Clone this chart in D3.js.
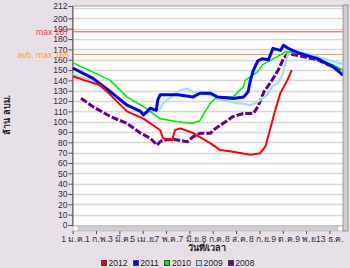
<!DOCTYPE html>
<html>
<head>
<meta charset="UTF-8">
<script src="https://cdn.jsdelivr.net/npm/d3@7/dist/d3.min.js"></script>
<style>
  body { margin: 0; background: #e8e0e8; }
  svg { display: block; }
  text { font-family: "Liberation Sans", Arial, sans-serif; }
</style>
</head>
<body>
<script>
// x = day index in the year (data points), y = million m3
var tickDays = [0, 31, 62, 93, 124, 155, 186, 217, 248, 279, 310, 341];
var tickLabels = ["1 ม.ค.", "1 ก.พ.", "3 มี.ค.", "5 เม.ย.", "7 พ.ค.", "7 มิ.ย.", "8 ก.ค.", "8 ส.ค.", "8 ก.ย.", "9 ต.ค.", "9 พ.ย.", "13 ธ.ค."];
var yTicks = [0,10,20,30,40,50,60,70,80,90,100,110,120,130,140,150,160,170,180,190,200,212];
var yGrid = [10,20,30,40,50,60,70,80,90,100,110,120,130,140,150,160,170,180,190,200,210];

var years = ["2012", "2011", "2010", "2009", "2008"];
var colors = ["#ff0000", "#0000ff", "#00ee00", "#9fe2ee", "#660099"];

var s2012 = [[0,144],[16,140],[36,135.5],[50,126],[72,110],[94,103],[116,92],[120,84],[132,82],[136,92],
  [143,93.5],[160,89],[183,79],[196,72.5],[213,71],[236,68],[249,69.5],[256,76],[262,92],[269,111],
  [276,128],[285,140],[291,150]];
var s2011 = [[0,152],[27,142],[50,129],[72,116],[90,110],[94,106.5],[99,110],[103,113],[111,111],[113,121],
  [116,126],[140,126],[160,124],[169,127.5],[183,127.5],[192,124],[213,122.5],[227,124],[233,129],[236,140],
  [240,150],[246,159],[252,161],[260,160],[266,171],[276,169],[280,174],[286,171],[302,166],[325,161],
  [346,153],[359,145]];
var s2010 = [[0,157],[27,148],[50,140],[72,124],[94,114.5],[116,103],[139,100],[160,98.4],[169,101],
  [176,110],[183,118],[192,124],[213,124],[227,134],[229,140],[245,148],[252,155],[272,163],[283,168],
  [302,166],[325,160],[346,155],[359,150]];
var s2009 = [[0,146],[27,139],[50,128],[72,117],[94,108],[116,112],[120,118],[134,126],[143,130.7],
  [152,132],[160,129],[183,126],[192,122],[219,118],[236,116],[245,119],[252,122.6],[258,126],[265,134],
  [272,137],[280,148],[283,158],[286,166],[293,169],[325,163],[346,158],[359,156]];
var s2008 = [[11,122.6],[27,114.5],[50,105],[72,98.4],[90,89],[103,84],[112,77.4],[116,80.6],[120,82.3],
  [134,83],[152,80.6],[160,85.5],[169,88.8],[183,88.8],[187,92],[200,98.4],[213,105],[227,108],[240,108],
  [246,114.5],[254,129],[262,137],[273,150],[280,161],[286,166],[325,160],[346,153],[358,148]];
var series = [s2012, s2011, s2010, s2009, s2008];

var maxVal = 187, avbMax = 165;

var W = 350, H = 268;
var x = d3.scaleLinear().domain([0, 359]).range([72.7, 343]);
var y = d3.scaleLinear().domain([0, 212]).range([225, 6]);

var svg = d3.select("body").append("svg").attr("width", W).attr("height", H);

// plot background
svg.append("rect").attr("x", 72.5).attr("y", 6).attr("width", 271).attr("height", 220)
  .attr("fill", "#fff").attr("stroke", "#a0a0a0");

// grid
svg.append("g").selectAll("line").data(yGrid)
  .enter().append("line")
  .attr("x1", 73).attr("x2", 343)
  .attr("y1", function (d) { return Math.round(y(d)) + 0.5; })
  .attr("y2", function (d) { return Math.round(y(d)) + 0.5; })
  .attr("stroke", "#d8d8d8").attr("stroke-width", 1.5);

// y axis
var yAxis = d3.axisLeft(y).tickValues(yTicks).tickSize(4).tickPadding(1);
var gy = svg.append("g").attr("transform", "translate(72.5,0)").call(yAxis);
gy.select(".domain").attr("stroke", "#555");
gy.selectAll("line").attr("stroke", "#555");
gy.selectAll("text").attr("font-size", 8.6).attr("fill", "#333");

// max lines
svg.append("line").attr("x1", 73).attr("x2", 343).attr("y1", y(maxVal)).attr("y2", y(maxVal))
  .attr("stroke", "#ff4040").attr("stroke-width", 1);
svg.append("line").attr("x1", 73).attr("x2", 343).attr("y1", y(avbMax)).attr("y2", y(avbMax))
  .attr("stroke", "#ff9a40").attr("stroke-width", 1);
svg.append("text").attr("x", 69).attr("y", y(maxVal) + 3).attr("text-anchor", "end")
  .attr("font-size", 8.6).attr("fill", "#ff3b3b").text("max " + maxVal);
svg.append("text").attr("x", 69).attr("y", y(avbMax) + 3).attr("text-anchor", "end")
  .attr("font-size", 8.6).attr("fill", "#ff9a40").text("avb. max " + avbMax);

// series
var line = d3.line().x(function (d) { return x(d[0]); }).y(function (d) { return y(d[1]); });
var widths = [2, 3, 1.6, 2.2, 3];
for (var i = series.length - 1; i >= 0; i--) {
  svg.append("path").datum(series[i])
    .attr("fill", "none")
    .attr("stroke", colors[i])
    .attr("stroke-width", widths[i])
    .attr("stroke-linejoin", "round")
    .attr("stroke-dasharray", i === 4 ? "7,2" : null)
    .attr("d", line);
}

// scrollbars
svg.append("rect").attr("x", 73).attr("y", 226).attr("width", 270).attr("height", 5)
  .attr("fill", "#cfcfcf").attr("stroke", "#aaa").attr("stroke-width", 0.5);
svg.append("rect").attr("x", 73.5).attr("y", 226.5).attr("width", 4).attr("height", 4).attr("fill", "#fff");
svg.append("rect").attr("x", 338.5).attr("y", 226.5).attr("width", 4).attr("height", 4).attr("fill", "#fff");
svg.append("rect").attr("x", 343).attr("y", 5).attr("width", 5).attr("height", 226)
  .attr("fill", "#cfcfcf").attr("stroke", "#888").attr("stroke-width", 0.8);

// x axis
var xAxis = d3.axisBottom(x).tickValues(tickDays).tickSize(3).tickPadding(2)
  .tickFormat(function (d, i) { return tickLabels[i]; });
var gx = svg.append("g").attr("transform", "translate(0,231)").call(xAxis);
gx.select(".domain").remove();
gx.selectAll("line").attr("stroke", "#555");
gx.selectAll("text").attr("font-size", 8.6).attr("fill", "#333")
  .attr("font-family", "Tahoma, 'Noto Sans Thai', 'Liberation Sans', sans-serif");

// titles
svg.append("text").attr("transform", "translate(10,115) rotate(-90)").attr("text-anchor", "middle")
  .attr("font-size", 9).attr("font-weight", "bold").attr("fill", "#222").text("ล้าน ลบม.");
svg.append("text").attr("x", 207).attr("y", 251).attr("text-anchor", "middle")
  .attr("font-size", 9).attr("font-weight", "bold").attr("fill", "#222").text("วันที่/เวลา");

// legend
var lg = svg.append("g").attr("transform", "translate(101,258)");
var item = lg.selectAll(".lg-item").data(years).enter().append("g").attr("class", "lg-item")
  .attr("transform", function (d, i) { return "translate(" + (i * 31.7) + ",0)"; });
item.append("rect").attr("x", 0.5).attr("y", 2.5).attr("width", 5).attr("height", 5)
  .attr("shape-rendering", "crispEdges")
  .attr("fill", function (d, i) { return colors[i]; })
  .attr("stroke", function (d, i) { return i === 3 ? "#668" : "#444"; }).attr("stroke-width", 1);
item.append("text").attr("x", 7.5).attr("y", 8).attr("font-size", 8.6).attr("fill", "#222")
  .text(function (d) { return d; });
</script>
</body>
</html>
